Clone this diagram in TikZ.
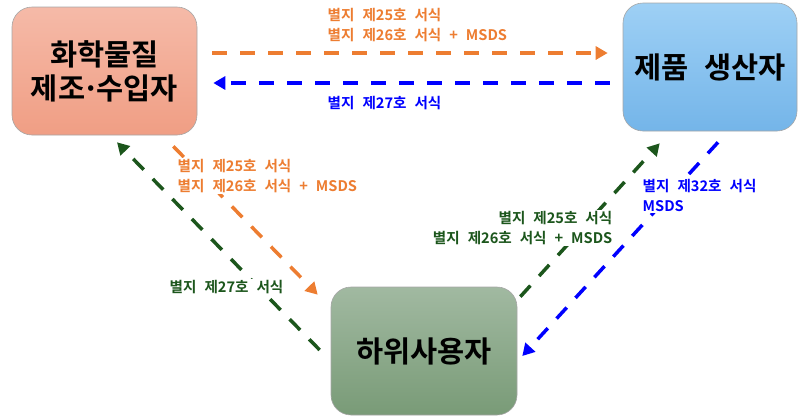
\documentclass[tikz,border=0pt]{standalone}
\usepackage{fontspec}
\setmainfont{Noto Sans CJK KR}[BoldFont={Noto Sans CJK KR Bold}]
\newfontfamily\labfont{Noto Sans CJK KR Bold}[WordSpace=2]
\newfontfamily\boxfont{Noto Sans CJK KR Bold}[WordSpace=2.4]
\usepackage{xcolor}
\usetikzlibrary{positioning,arrows.meta,calc}
\definecolor{formorange}{RGB}{237,125,49}
\definecolor{formblue}{RGB}{0,0,255}
\definecolor{formgreen}{RGB}{28,86,28}

\begin{document}
\begin{tikzpicture}[x=1pt, y=-1pt,
  party/.style={draw=gray!70, line width=0.6pt, rounded corners=20pt, align=center, inner sep=0pt,
    minimum height=128pt, font=\boxfont\fontsize{29.5}{34}\selectfont},
  flow/.style={line width=3.5pt, dash pattern=on 15pt off 13pt, -{Triangle[length=12pt,width=13pt]}},
  lab/.style={fill=white, inner sep=1.5pt, font=\labfont\fontsize{14.6}{20}\selectfont}]
\useasboundingbox (0,0) rectangle (799,416);
\node[party, minimum width=185pt, top color={rgb,255:red,245;green,186;blue,168}, bottom color={rgb,255:red,240;green,158;blue,132}] (maker) at (104.5,71)
  {화학물질\\제조\kern-3pt·\kern-3pt수입자};
\node[party, minimum width=174pt, top color={rgb,255:red,158;green,208;blue,245}, bottom color={rgb,255:red,116;green,181;blue,233}] (producer) at (710,67)
  {제품 생산자};
\node[party, minimum width=186pt, top color={rgb,255:red,161;green,185;blue,161}, bottom color={rgb,255:red,121;green,155;blue,119}] (user) at (424,351)
  {하위사용자};
\draw[flow, formorange] ([xshift=15pt,yshift=18pt]maker.east) -- ([xshift=-15pt,yshift=14pt]producer.west);
\draw[flow, formblue] ([xshift=-13pt,yshift=-16pt]producer.west) -- ([xshift=16pt,yshift=-12pt]maker.east);
\draw[flow, formorange] ([xshift=-24pt,yshift=-11pt]maker.south east) -- ([xshift=-13pt,yshift=-8pt]user.north west);
\draw[flow, formgreen] ([xshift=-11pt,yshift=1pt]user.west) -- ([xshift=12.5pt,yshift=-7pt]maker.south);
\draw[flow, formgreen] ([xshift=3pt,yshift=-10pt]user.north east) -- ([xshift=37pt,yshift=-12pt]producer.south west);
\draw[flow, formblue] ([xshift=8pt,yshift=-11pt]producer.south) -- ([xshift=5pt,yshift=-5pt]user.east);
\node[lab, text=formorange, align=left, anchor=west] (topfwd) at (326,25) {별지 제25호 서식\\별지 제26호 서식 + MSDS};
\node[lab, text=formblue, anchor=west] (topback) at (326,103) {별지 제27호 서식};
\node[lab, text=formorange, align=left, anchor=west] (diagfwd) at (176,176) {별지 제25호 서식\\별지 제26호 서식 + MSDS};
\node[lab, text=formgreen, anchor=west] (diagback) at (168,287) {별지 제27호 서식};
\node[lab, text=formgreen, align=right, anchor=east] (upfwd) at (614,228) {별지 제25호 서식\\별지 제26호 서식 + MSDS};
\node[lab, text=formblue, align=left, anchor=west] (downback) at (641,195.5) {별지 제32호 서식\\MSDS};
\end{tikzpicture}
\end{document}
